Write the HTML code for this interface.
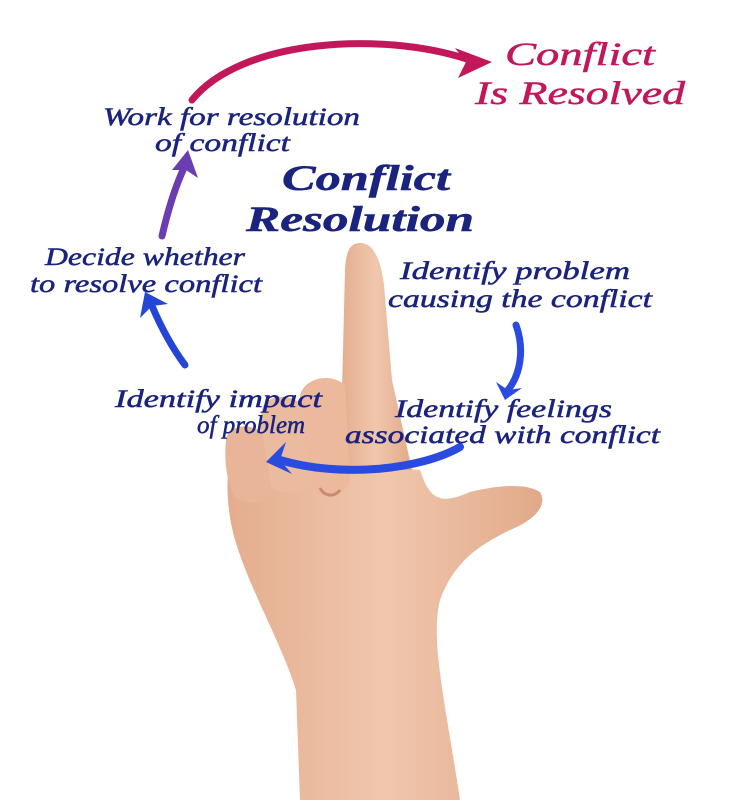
<!DOCTYPE html>
<html><head><meta charset="utf-8"><style>
html,body{margin:0;padding:0;background:#fff;}
svg{display:block}
text{font-family:"Liberation Serif",serif;font-style:italic;}
</style></head><body>
<svg width="747" height="800" viewBox="0 0 747 800" xmlns="http://www.w3.org/2000/svg">
<defs>
<linearGradient id="skin" x1="0" y1="0" x2="1" y2="0">
<stop offset="0" stop-color="#e4ad8e"/><stop offset="0.5" stop-color="#f0c7ad"/><stop offset="1" stop-color="#e2a98a"/>
</linearGradient>
</defs>
<g fill="url(#skin)">
<path d="M300 800 L296 690 C280 640 250 590 235 540 C225 505 226 470 232 450 L420 470 C430 500 440 505 470 492 C500 485 525 483 540 492 C548 505 535 520 510 530 C480 545 455 560 440 600 C430 640 445 700 460 800 Z"/>
<path d="M340 470 L345 270 C346 248 352 243 360 243 C372 243 380 255 384 285 L392 380 L412 470 Z"/>
<path d="M300 395 C305 378 330 372 345 385 L350 480 C345 495 330 500 320 495 C305 480 300 440 300 395Z" fill="#ecb99c"/>
<path d="M262 410 C265 395 290 392 302 405 L310 480 C305 495 285 495 272 488 C262 470 258 440 262 410Z" fill="#eabb9f"/>
<path d="M226 440 C228 425 250 422 262 433 L272 490 C268 505 248 505 235 498 C226 480 224 460 226 440Z" fill="#e8b598"/>
</g>
<path d="M320 488 C324 496 334 498 340 490" stroke="#c98a73" stroke-width="3" fill="none"/>
<g fill="none" stroke-linecap="round">
<path d="M192 100 C240 40 380 30 470 60" stroke="#c2185b" stroke-width="7"/>
<path d="M162 236 C168 210 176 185 184 168" stroke="#6a3db0" stroke-width="7"/>
<path d="M185 365 C170 345 158 320 152 306" stroke="#2446d8" stroke-width="7"/>
<path d="M516 325 C525 350 520 375 508 390" stroke="#2a4be0" stroke-width="7"/>
<path d="M460 447 C420 470 340 478 280 460" stroke="#2a4be0" stroke-width="8"/>
</g>
<g stroke-linejoin="round">
<polygon points="455,48 492,62 458,78 466,62" fill="#c2185b"/>
<polygon points="172,170 188,150 198,178 186,170" fill="#6a3db0"/>
<polygon points="140,318 145,292 168,304 152,306" fill="#2446d8"/>
<polygon points="496,382 505,400 522,388 508,390" fill="#2a4be0"/>
<polygon points="286,442 266,462 292,474 280,460" fill="#2a4be0"/>
</g>
<g fill="#1a237e" font-size="25" stroke="#1a237e" stroke-width="0.5">
<text x="103" y="125" textLength="257" lengthAdjust="spacingAndGlyphs">Work for resolution</text>
<text x="155" y="151" textLength="135" lengthAdjust="spacingAndGlyphs">of conflict</text>
<text x="45" y="265" textLength="200" lengthAdjust="spacingAndGlyphs">Decide whether</text>
<text x="30" y="292" textLength="232" lengthAdjust="spacingAndGlyphs">to resolve conflict</text>
<text x="400" y="279" textLength="230" lengthAdjust="spacingAndGlyphs">Identify  problem</text>
<text x="388" y="307" textLength="264" lengthAdjust="spacingAndGlyphs">causing the conflict</text>
<text x="115" y="407" textLength="207" lengthAdjust="spacingAndGlyphs">Identify impact</text>
<text x="197" y="433">of problem</text>
<text x="395" y="417" textLength="217" lengthAdjust="spacingAndGlyphs">Identify feelings</text>
<text x="345" y="443" textLength="315" lengthAdjust="spacingAndGlyphs">associated with conflict</text>
<text x="282" y="190" font-size="36" font-weight="bold" textLength="168" lengthAdjust="spacingAndGlyphs">Conflict</text>
<text x="246" y="231" font-size="36" font-weight="bold" textLength="228" lengthAdjust="spacingAndGlyphs">Resolution</text>
</g>
<g fill="#c2185b" font-size="33" stroke="#c2185b" stroke-width="0.5">
<text x="505" y="65" textLength="150" lengthAdjust="spacingAndGlyphs">Conflict</text>
<text x="475" y="104" textLength="210" lengthAdjust="spacingAndGlyphs">Is Resolved</text>
</g>
</svg>
</body></html>
